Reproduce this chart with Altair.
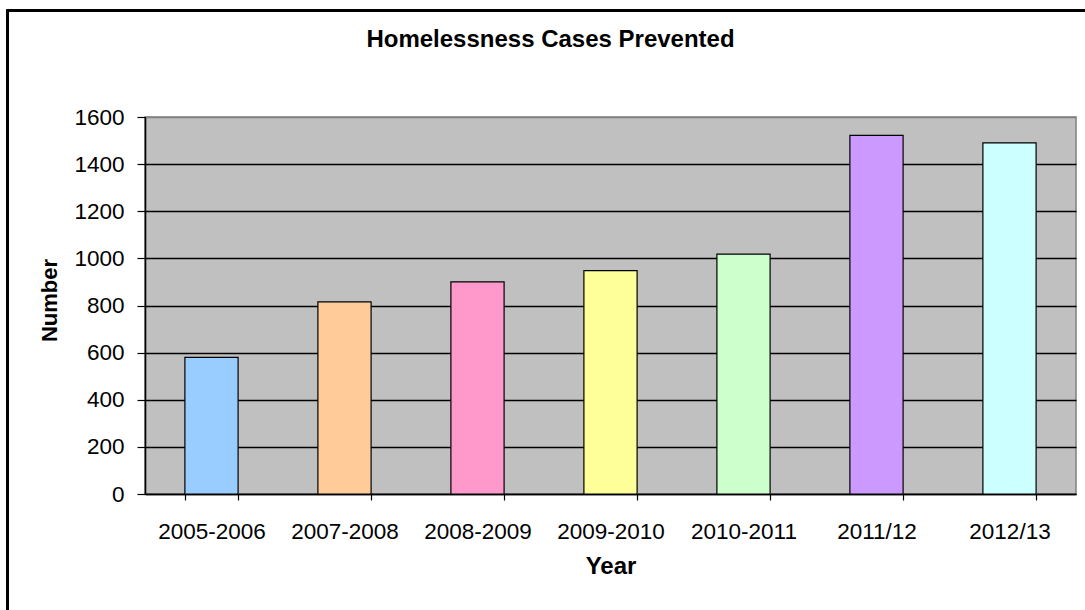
import altair as alt
import pandas as pd

years = ["2005-2006", "2007-2008", "2008-2009", "2009-2010", "2010-2011", "2011/12", "2012/13"]
cases = [580, 815, 900, 948, 1018, 1522, 1490]
colors = ["#99CCFF", "#FFCC99", "#FF99CC", "#FFFF99", "#CCFFCC", "#CC99FF", "#CCFFFF"]

df = pd.DataFrame({"Year": years, "Number": cases})

FONT = "Liberation Sans"
W, H = 931, 377

bars = alt.Chart(df).mark_bar(stroke="black", strokeWidth=1.2).encode(
    x=alt.X(
        "Year:N",
        sort=years,
        scale=alt.Scale(paddingInner=0.6, paddingOuter=0.3),
        axis=alt.Axis(
            title="Year",
            labelAngle=0,
            labelFont=FONT,
            labelFontSize=22.5,
            labelColor="black",
            labelBaseline="alphabetic",
            labelPadding=38,
            tickBand="extent",
            tickSize=6,
            tickColor="black",
            tickWidth=1.2,
            domainColor="black",
            domainWidth=1.6,
            grid=False,
            titleFont=FONT,
            titleFontSize=24,
            titleFontWeight="bold",
            titleColor="black",
            titleBaseline="alphabetic",
            titleY=79,
        ),
    ),
    y=alt.Y(
        "Number:Q",
        scale=alt.Scale(domain=[0, 1600]),
        axis=alt.Axis(
            title="Number",
            values=[0, 200, 400, 600, 800, 1000, 1200, 1400, 1600],
            format="d",
            labelFont=FONT,
            labelFontSize=22.5,
            labelColor="black",
            labelBaseline="alphabetic",
            labelOffset=7,
            labelPadding=13,
            tickSize=8,
            tickColor="black",
            tickWidth=1.2,
            domainColor="black",
            domainWidth=1.6,
            grid=True,
            gridColor={"condition": {"test": "datum.value === 1600", "value": "#808080"}, "value": "black"},
            gridWidth=1.3,
            titleFont=FONT,
            titleFontSize=22,
            titleFontWeight="bold",
            titleColor="black",
            titleAngle=-90,
            titleAlign="center",
            titleBaseline="alphabetic",
            titleX=-89,
            titleY=183,
        ),
    ),
    color=alt.Color("Year:N", sort=years, scale=alt.Scale(domain=years, range=colors), legend=None),
)

frame = alt.Chart(df).mark_rect(fill=None, stroke="black", strokeWidth=2).encode(
    x=alt.value(-137.5), x2=alt.value(W + 60), y=alt.value(-106.5), y2=alt.value(H + 140)
)

chart = alt.layer(bars, frame).properties(
    width=W,
    height=H,
    title=alt.TitleParams(
        "Homelessness Cases Prevented",
        font=FONT,
        fontSize=24,
        fontWeight="bold",
        color="black",
        anchor="middle",
        dx=-60,
        baseline="alphabetic",
        offset=-61,
    ),
    autosize=alt.AutoSizeParams(type="none"),
    padding={"left": 145, "top": 117, "right": 9, "bottom": 116},
    background="white",
).configure_view(
    fill="#C0C0C0", stroke="#808080", strokeWidth=1.5
)

chart.save("out.html", embed_options={"renderer": "svg", "actions": False})
